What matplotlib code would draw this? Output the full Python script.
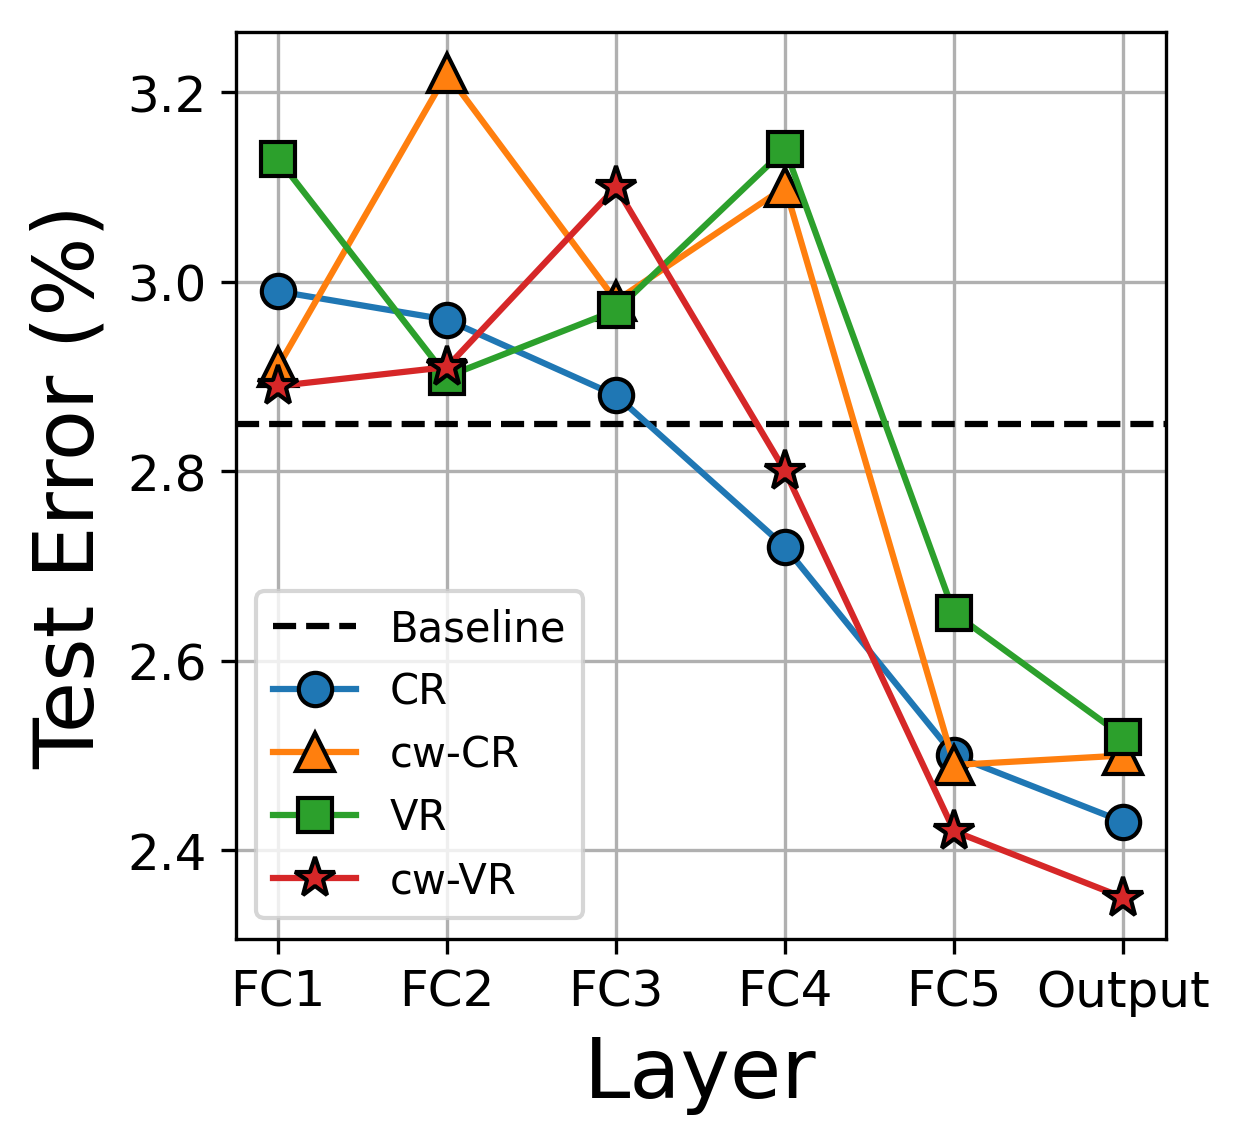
import matplotlib
matplotlib.use("Agg")
import matplotlib.pyplot as plt

layers = ["FC1", "FC2", "FC3", "FC4", "FC5", "Output"]
baseline = 2.85
cr = [2.99, 2.96, 2.88, 2.72, 2.50, 2.43]
cw_cr = [2.91, 3.22, 2.98, 3.10, 2.49, 2.50]
vr = [3.13, 2.90, 2.97, 3.14, 2.65, 2.52]
cw_vr = [2.89, 2.91, 3.10, 2.80, 2.42, 2.35]

x = range(len(layers))

fig, ax = plt.subplots(figsize=(4.1333, 3.8133), dpi=300)
ax.axhline(baseline, color="k", linestyle="--", label="Baseline")
ax.plot(x, cr, marker="o", markersize=8, markeredgecolor="k", label="CR")
ax.plot(x, cw_cr, marker="^", markersize=9, markeredgecolor="k", label="cw-CR")
ax.plot(x, vr, marker="s", markersize=8, markeredgecolor="k", label="VR")
ax.plot(x, cw_vr, marker="*", markersize=10, markeredgecolor="k", label="cw-VR")

ax.set_xticks(list(x))
ax.set_xticklabels(layers)
ax.tick_params(labelsize=12)
ax.set_xlabel("Layer", fontsize=20)
ax.set_ylabel("Test Error (%)", fontsize=20)
ax.grid(True)
ax.legend(loc="lower left")
fig.subplots_adjust(left=0.19, right=0.94, top=0.971, bottom=0.1785)
fig.savefig("out.png")
